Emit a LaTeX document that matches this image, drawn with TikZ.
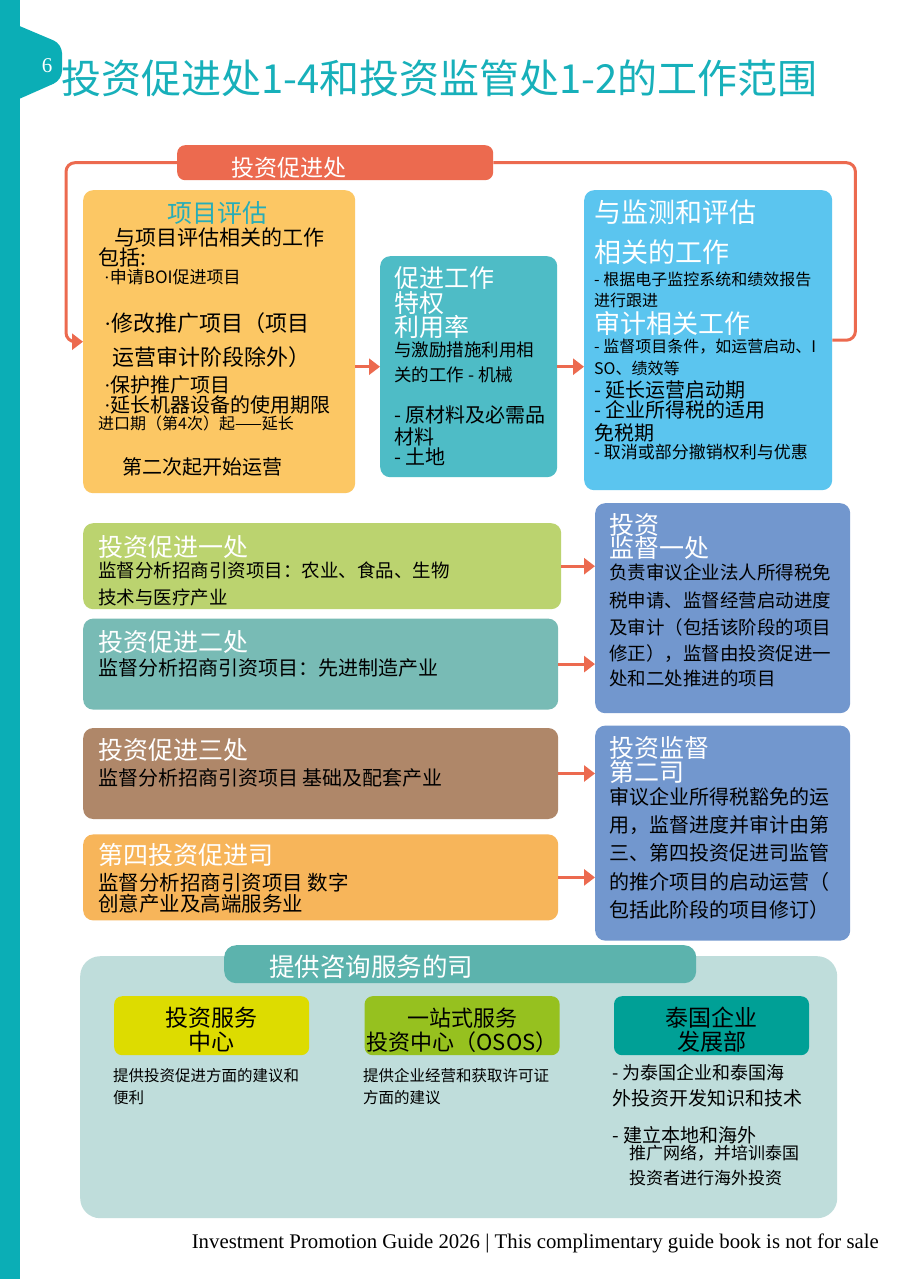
\documentclass[tikz,border=0pt]{standalone}
\usepackage{fontspec}
\setmainfont{Noto Sans CJK SC}
\newfontfamily\footfont{Liberation Serif}
\usetikzlibrary{arrows.meta,positioning}
\definecolor{band}{HTML}{0BAEB6}
\definecolor{titlec}{HTML}{17B0BA}
\definecolor{promo}{HTML}{EC6A4F}
\definecolor{evalc}{HTML}{FCC764}
\definecolor{evalt}{HTML}{27ADB8}
\definecolor{privc}{HTML}{4EBCC6}
\definecolor{monc}{HTML}{5BC5EF}
\definecolor{divone}{HTML}{BBD36F}
\definecolor{divtwo}{HTML}{78BBB5}
\definecolor{divthree}{HTML}{AF8769}
\definecolor{divfour}{HTML}{F7B55A}
\definecolor{supc}{HTML}{7297CE}
\definecolor{panelc}{HTML}{BFDDDB}
\definecolor{panelhd}{HTML}{5CB3AD}
\definecolor{invc}{HTML}{DDDC00}
\definecolor{ososc}{HTML}{96C11F}
\definecolor{thaic}{HTML}{00A096}
\newcommand\fsz[1]{\fontsize{#1}{#1}\selectfont}
\newcommand\mdot{{\footfont ·}}
\begin{document}
\begin{tikzpicture}[x=1pt,y=-1pt,>={Triangle[length=11pt,width=16pt]},
 box/.style={rounded corners=10pt,inner sep=0pt,anchor=north west},
 small/.style={box,rounded corners=8pt,minimum width=195pt,minimum height=59pt},
 line/.style={anchor=base west,inner sep=0pt},
 cline/.style={anchor=base,inner sep=0pt,font=\fsz{23}},
 arr/.style={draw=promo,line width=3pt,->},
 loopline/.style={draw=promo,line width=3pt,rounded corners=9pt}]
\useasboundingbox (0,0) rectangle (920,1279);
\fill[white] (0,0) rectangle (920,1279);
\fill[band] (0,0) rectangle (20,1279);
\fill[band,rounded corners=9pt] (10,22) -- (62,44) -- (62,80) -- (10,103) -- cycle;
\node[text=white,inner sep=0pt,font=\footfont\fsz{21}] (pageno) at (47,66) {6};
\node[line,text=titlec,font=\fsz{40}] (title) at (61,93.5) {投资促进处1-4和投资监管处1-2的工作范围};
\node[box,fill=promo,rounded corners=8pt,minimum width=316pt,minimum height=35pt] (hdr) at (177,145) {};
\node[line,text=white,font=\fsz{23}] (hdr-text) at (231,176.5) {投资促进处};
\node[box,fill=evalc,minimum width=272pt,minimum height=303pt] (eval) at (83,190) {};
\node[box,fill=privc,minimum width=177pt,minimum height=221pt] (priv) at (380,256) {};
\node[box,fill=monc,minimum width=248pt,minimum height=300pt] (mon) at (584,190) {};
\draw[loopline,->] (hdr.west) -| ([xshift=-17pt]eval.west) -- (eval.west);
\draw[loopline] (hdr.east) -| ([xshift=23pt]mon.east) -- (mon.east);
\draw[arr] (eval.east |- priv.west) -- (priv.west);
\draw[arr] (priv.east) -- (priv.east -| mon.west);
\foreach \px/\py/\sz/\cl/\tx [count=\i] in {
 167/222.5/25/evalt/项目评估,
 114/245/21/black/与项目评估相关的工作,
 98/265/21/black/包括:,
 104/283.5/17/black/\mdot 申请BOI促进项目,
 104/331/22/black/\mdot 修改推广项目（项目,
 112/365/22/black/运营审计阶段除外）,
 104/392.6/20/black/\mdot 保护推广项目,
 104/412.6/20/black/\mdot 延长机器设备的使用期限,
 98/429/16/black/进口期（第4次）起——延长,
 122/474.6/20/black/第二次起开始运营}
 \node[line,text=\cl,font=\fsz{\sz}] (eval-\i) at (\px,\py) {\tx};
\foreach \px/\py/\sz/\cl/\tx [count=\i] in {
 394/287.5/25/white/促进工作,
 394/312.5/25/white/特权,
 394/336.5/25/white/利用率,
 394/356.6/17.5/black/与激励措施利用相,
 394/381.6/17.5/black/关的工作 - 机械,
 394/422.6/20/black/- 原材料及必需品,
 394/444.6/20/black/材料,
 394/464.6/20/black/- 土地}
 \node[line,text=\cl,font=\fsz{\sz}] (priv-\i) at (\px,\py) {\tx};
\foreach \px/\py/\sz/\cl/\tx [count=\i] in {
 594/222/27/white/与监测和评估,
 594/262/27/white/相关的工作,
 594/285/16/black/- 根据电子监控系统和绩效报告,
 594/306/16/black/进行跟进,
 594/333/26/white/审计相关工作,
 594/352/16/black/- 监督项目条件，如运营启动、I,
 594/374/16/black/SO、绩效等,
 594/397.6/20/black/- 延长运营启动期,
 594/417.6/20/black/- 企业所得税的适用,
 594/440.6/20/black/免税期,
 594/458.5/17/black/- 取消或部分撤销权利与优惠}
 \node[line,text=\cl,font=\fsz{\sz}] (mon-\i) at (\px,\py) {\tx};
\node[box,fill=divone,minimum width=478pt,minimum height=86pt] (div1) at (83,523) {};
\node[box,fill=divtwo,minimum width=475pt,minimum height=91pt,below=9pt of div1.south west,anchor=north west] (div2) {};
\node[box,fill=divthree,minimum width=475pt,minimum height=91pt,below=18pt of div2.south west,anchor=north west] (div3) {};
\node[box,fill=divfour,minimum width=475pt,minimum height=86pt,below=15pt of div3.south west,anchor=north west] (div4) {};
\node[box,fill=supc,minimum width=255pt,minimum height=210pt] (sup1) at (595,503) {};
\node[box,fill=supc,minimum width=255pt,minimum height=215pt,below=12pt of sup1.south west,anchor=north west] (sup2) {};
\draw[arr] (div1.east) -- (div1.east -| sup1.west);
\draw[arr] (div2.east) -- (div2.east -| sup1.west);
\draw[arr] (div3.east) -- (div3.east -| sup2.west);
\draw[arr] (div4.east) -- (div4.east -| sup2.west);
\foreach \px/\py/\sz/\cl/\tx [count=\i] in {
 98/556.5/25/white/投资促进一处,
 98/577/18.5/black/监督分析招商引资项目：农业、食品、生物,
 98/604/18.5/black/技术与医疗产业,
 98/651.5/25/white/投资促进二处,
 98/675.6/20/black/监督分析招商引资项目：先进制造产业,
 98/759.5/25/white/投资促进三处,
 98/785.6/20/black/监督分析招商引资项目 基础及配套产业,
 98/864.5/25/white/第四投资促进司,
 98/890/20.5/black/监督分析招商引资项目 数字,
 98/911/20.5/black/创意产业及高端服务业}
 \node[line,text=\cl,font=\fsz{\sz}] (div-\i) at (\px,\py) {\tx};
\foreach \px/\py/\sz/\cl/\tx [count=\i] in {
 609/534.5/25/white/投资,
 609/557.5/25/white/监督一处,
 609/579/18.5/black/负责审议企业法人所得税免,
 609/607/18.5/black/税申请、监督经营启动进度,
 609/634/18.5/black/及审计（包括该阶段的项目,
 609/660/18.5/black/修正），监督由投资促进一,
 609/685/18.5/black/处和二处推进的项目,
 609/757.5/25/white/投资监督,
 609/781.5/25/white/第二司,
 609/804.6/20/black/审议企业所得税豁免的运,
 609/832.6/20/black/用，监督进度并审计由第,
 609/860.6/20/black/三、第四投资促进司监管,
 609/889.6/20/black/的推介项目的启动运营（,
 609/917.6/20/black/包括此阶段的项目修订）}
 \node[line,text=\cl,font=\fsz{\sz}] (sup-\i) at (\px,\py) {\tx};
\node[box,fill=panelc,rounded corners=20pt,minimum width=757pt,minimum height=262pt] (panel) at (80,956) {};
\node[box,fill=panelhd,rounded corners=12pt,minimum width=472pt,minimum height=38pt] (panel-hd) at (224,945) {};
\node[line,text=white,font=\fsz{25.5}] (panel-text) at (269,976.7) {提供咨询服务的司};
\node[small,fill=invc] (inv) at (114,996) {};
\node[small,fill=ososc,right=55pt of inv] (osos) {};
\node[small,fill=thaic,right=54pt of osos] (thai) {};
\node[cline] (inv-1) at (inv.center |- 0,1026.7) {投资服务};
\node[cline] (inv-2) at (inv.center |- 0,1050.7) {中心};
\node[cline,font=\fsz{22}] (osos-1) at (osos.center |- 0,1026.4) {一站式服务};
\node[cline,font=\fsz{22}] (osos-2) at (osos.center |- 0,1050.4) {投资中心（OSOS）};
\node[cline] (thai-1) at (thai.center |- 0,1026.7) {泰国企业};
\node[cline] (thai-2) at (thai.center |- 0,1050.7) {发展部};
\foreach \px/\py/\sz/\tx [count=\i] in {
 113/1081/15.5/提供投资促进方面的建议和,
 113/1103/15.5/便利,
 363/1081/15.5/提供企业经营和获取许可证,
 363/1103/15.5/方面的建议,
 612/1079/18/- 为泰国企业和泰国海,
 612/1105/19/外投资开发知识和技术,
 612/1142/19/- 建立本地和海外,
 629/1159.5/17/推广网络，并培训泰国,
 629/1184.5/17/投资者进行海外投资}
 \node[line,font=\fsz{\sz}] (svc-\i) at (\px,\py) {\tx};
\node[anchor=base east,inner sep=0pt,font=\footfont\fsz{20.8}] (foot) at (879,1248.5) {Investment Promotion Guide 2026 | This complimentary guide book is not for sale};
\end{tikzpicture}
\end{document}
